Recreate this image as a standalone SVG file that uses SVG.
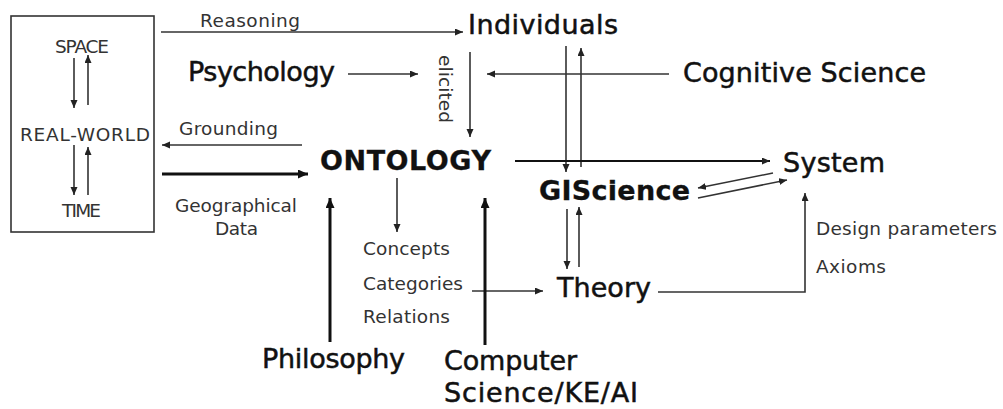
<svg xmlns="http://www.w3.org/2000/svg" width="1003" height="409" viewBox="0 0 1003 409">
<defs>
<style>
.main{font-family:"DejaVu Sans","Verdana",sans-serif;font-size:27px;fill:#111;stroke:#111;stroke-width:0.5}
.bold{font-weight:bold;stroke-width:0.3}
.small{font-family:"DejaVu Sans","Verdana",sans-serif;font-size:18.5px;fill:#333}
.ln{stroke:#333;stroke-width:1.6;fill:none;marker-end:url(#ah)}
.thick{stroke:#111;stroke-width:3;fill:none;marker-end:url(#ahb)}
</style>
<marker id="ah" markerUnits="userSpaceOnUse" markerWidth="9" markerHeight="8" refX="8" refY="3.5" orient="auto">
<path d="M0,0 L8,3.5 L0,7 z" fill="#222"/>
</marker>
<marker id="ahb" markerUnits="userSpaceOnUse" markerWidth="11" markerHeight="10" refX="10" refY="4.5" orient="auto">
<path d="M0,0 L10,4.5 L0,9 z" fill="#111"/>
</marker>
</defs>
<rect width="1003" height="409" fill="#fff"/>

<g id="realworld-box">
<rect x="11" y="16" width="143" height="216" fill="none" stroke="#333" stroke-width="1.6"/>
<text class="small" x="55" y="53" textLength="54">SPACE</text>
<text class="small" x="20" y="141" textLength="130">REAL-WORLD</text>
<text class="small" x="62" y="217" textLength="39">TIME</text>
</g>
<g id="individuals"><text class="main" x="468" y="34" textLength="150">Individuals</text></g>
<g id="psychology"><text class="main" x="188" y="81" textLength="147">Psychology</text></g>
<g id="cognitive-science"><text class="main" x="683" y="82" textLength="243">Cognitive Science</text></g>
<g id="ontology"><text class="main bold" x="320" y="170" textLength="171">ONTOLOGY</text></g>
<g id="system"><text class="main" x="783" y="172" textLength="102">System</text></g>
<g id="giscience"><text class="main bold" x="539" y="200" textLength="151">GIScience</text></g>
<g id="theory"><text class="main" x="557" y="297" textLength="94">Theory</text></g>
<g id="philosophy"><text class="main" x="262" y="368" textLength="143">Philosophy</text></g>
<g id="computer-science">
<text class="main" x="444" y="370" textLength="133">Computer</text>
<text class="main" x="444" y="402" textLength="194">Science/KE/AI</text>
</g>
<g id="concepts-list">
<text class="small" x="363" y="255" textLength="87">Concepts</text>
<text class="small" x="363" y="290" textLength="100">Categories</text>
<text class="small" x="363" y="323" textLength="87">Relations</text>
</g>

<g id="connectors">
<line class="ln" x1="74" y1="58" x2="74" y2="108"/>
<line class="ln" x1="88" y1="105" x2="88" y2="55"/>
<line class="ln" x1="74" y1="145" x2="74" y2="195"/>
<line class="ln" x1="88" y1="195" x2="88" y2="147"/>
<line class="ln" x1="161" y1="32" x2="463" y2="32"/>
<line class="ln" x1="348" y1="74" x2="418" y2="74"/>
<line class="ln" x1="669" y1="74" x2="487" y2="74"/>
<line class="ln" x1="470" y1="52" x2="470" y2="137"/>
<line class="ln" x1="566" y1="46" x2="566" y2="172"/>
<line class="ln" x1="581" y1="167" x2="581" y2="48"/>
<line class="ln" x1="515" y1="161" x2="770" y2="161" style="stroke-width:2;stroke:#111"/>
<line class="ln" x1="773" y1="173" x2="698" y2="188"/>
<line class="ln" x1="698" y1="198" x2="787" y2="180"/>
<line class="ln" x1="567" y1="209" x2="567" y2="269"/>
<line class="ln" x1="579" y1="267" x2="579" y2="207"/>
<polyline class="ln" points="658,292 805,292 805,193"/>
<line class="ln" x1="472" y1="291" x2="543" y2="291"/>
<line class="ln" x1="397" y1="178" x2="397" y2="232"/>
<line class="ln" x1="302" y1="145" x2="162" y2="145"/>
<line class="thick" x1="162" y1="174" x2="308" y2="174"/>
<line class="thick" x1="330" y1="342" x2="330" y2="198"/>
<line class="thick" x1="485" y1="345" x2="485" y2="198"/>
<text class="small" x="200" y="27" textLength="100">Reasoning</text>
<text class="small" x="179" y="135" textLength="99">Grounding</text>
<text class="small" x="175" y="212" textLength="122">Geographical</text>
<text class="small" x="215" y="235" textLength="43">Data</text>
<text class="small" transform="translate(439,55) rotate(90)" x="0" y="0" textLength="68">elicited</text>
<text class="small" x="816" y="235" textLength="181">Design parameters</text>
<text class="small" x="816" y="273" textLength="70">Axioms</text>
</g>
</svg>
